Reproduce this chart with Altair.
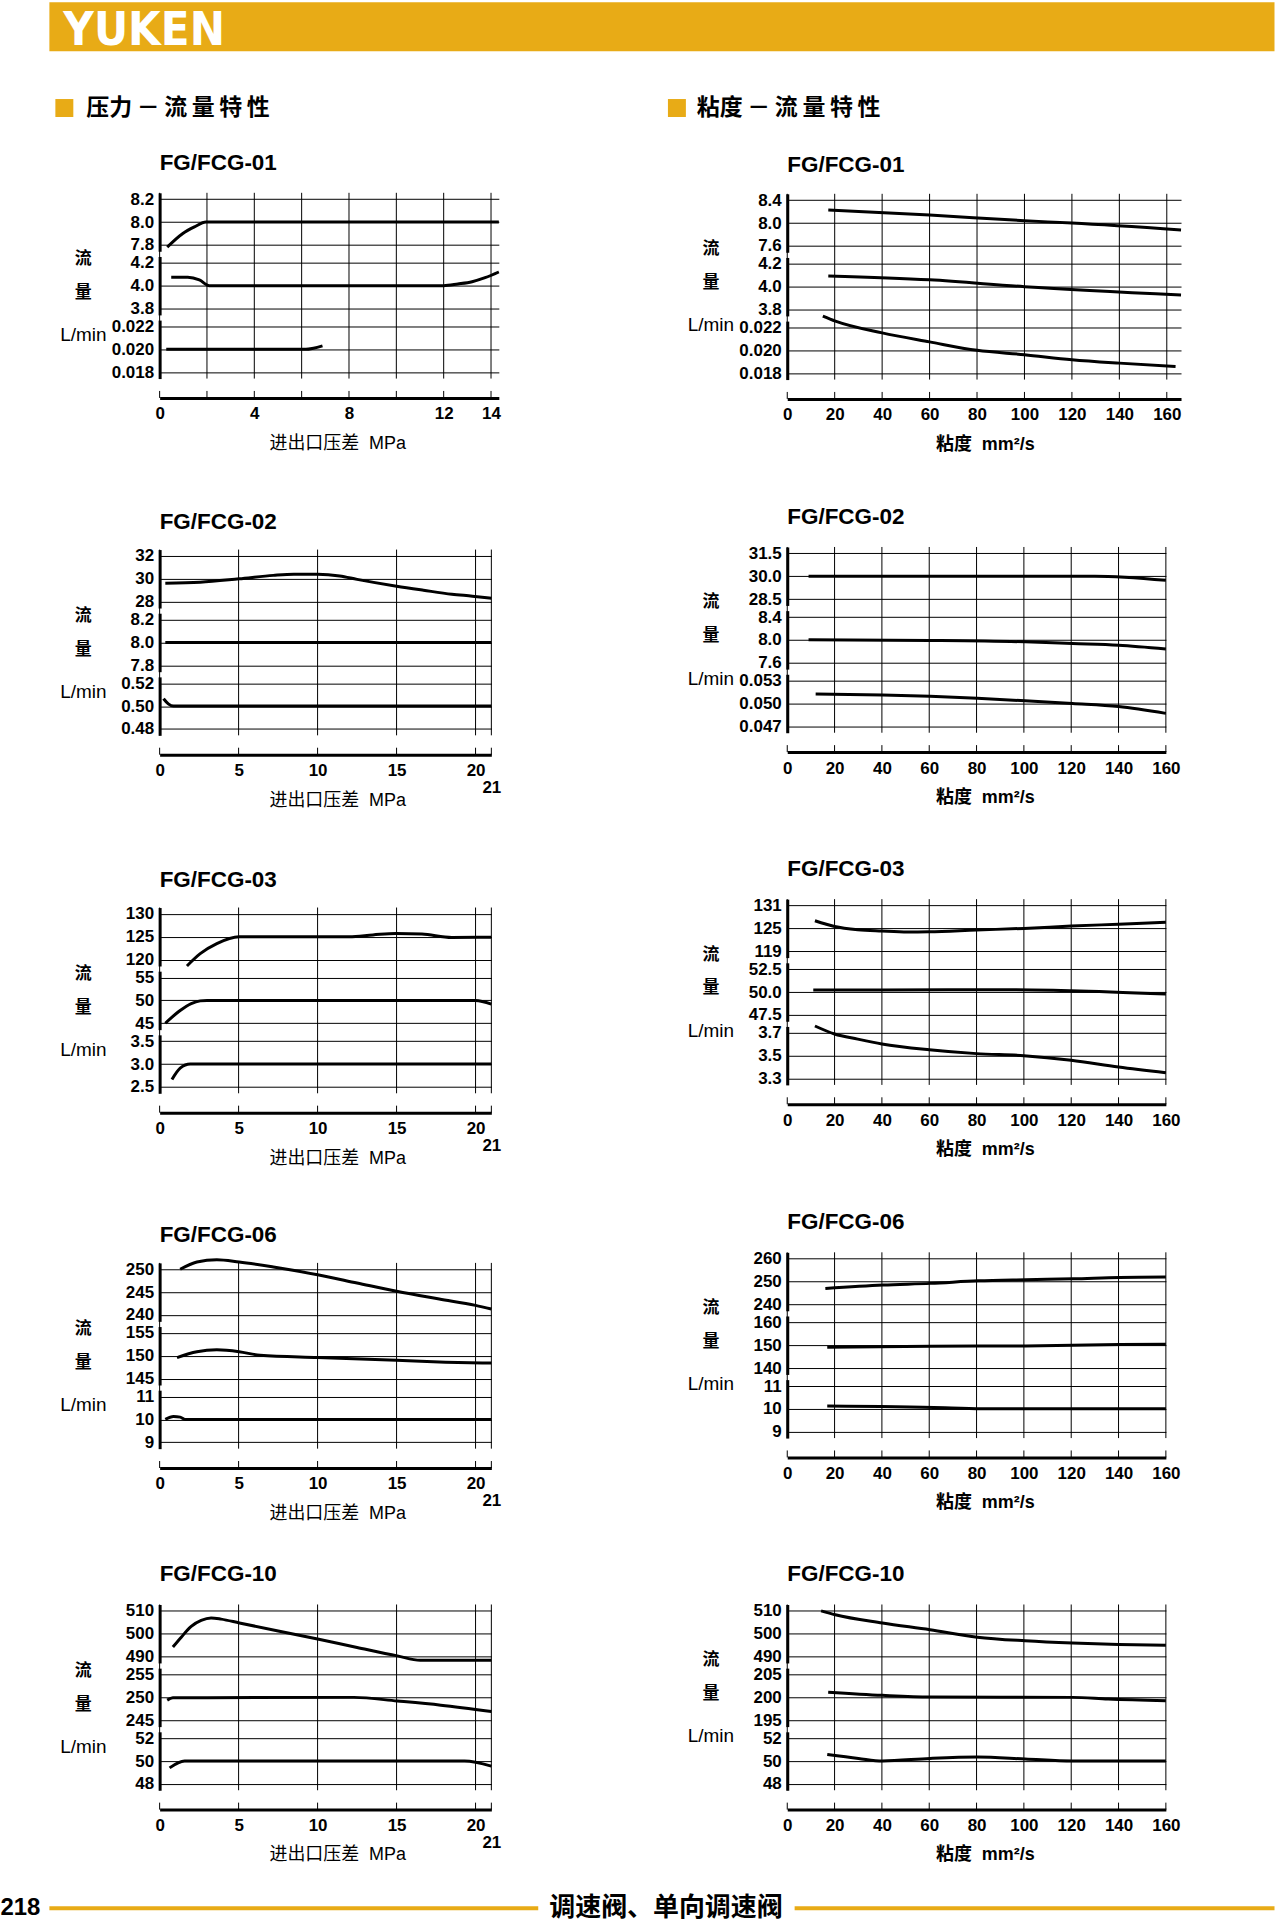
import altair as alt
import pandas as pd

# ----------------------------------------------------------------- data
# 压力-流量特性 (x: 进出口压差 MPa) — three flow bands per size
P01_TOP = [(0.32, 7.78), (0.98, 7.90), (1.47, 7.957), (1.96, 8.0), (14.33, 8.0)]
P01_MID = [(0.49, 4.074), (1.19, 4.074), (1.68, 4.05), (2.1, 4.0), (12.0, 4.0), (12.6, 4.015),
           (13.2, 4.035), (13.75, 4.07), (14.33, 4.12)]
P01_LOW = [(0.28, 0.0200), (6.18, 0.0200), (6.5, 0.0201), (6.88, 0.0203)]

P02_TOP = [(0.36, 29.62), (2.57, 29.7), (5.03, 30.0), (7.2, 30.3), (8.5, 30.4), (10.0, 30.4),
           (11.4, 30.25), (12.5, 29.95), (15.0, 29.35), (16.7, 29.0), (18.5, 28.65), (19.8, 28.48), (21.0, 28.3)]
P02_MID = [(0.36, 8.0), (21.0, 8.0)]
P02_LOW = [(0.25, 0.5065), (0.55, 0.502), (0.88, 0.500), (21.0, 0.500)]

P03_TOP = [(1.73, 118.6), (2.57, 121.3), (3.62, 123.5), (5.03, 125.0), (12.0, 125.0), (13.5, 125.4),
           (14.95, 125.74), (16.6, 125.6), (18.5, 124.85), (21.0, 124.9)]
P03_MID = [(0.36, 45.0), (1.3, 47.8), (2.0, 49.3), (2.57, 49.9), (3.0, 50.0), (20.0, 50.0), (21.0, 49.2)]
P03_LOW = [(0.78, 2.66), (1.3, 2.91), (1.94, 3.0), (21.0, 3.0)]

P06_TOP = [(1.3, 250.0), (2.36, 251.6), (3.62, 252.1), (5.03, 251.6), (7.2, 250.5), (10.0, 248.8),
           (12.5, 247.0), (15.0, 245.2), (17.7, 243.5), (20.0, 242.1), (21.0, 241.3)]
P06_MID = [(1.1, 149.6), (2.36, 150.9), (3.62, 151.3), (5.03, 150.9), (6.36, 150.1), (10.0, 149.6),
           (15.0, 149.0), (18.1, 148.6), (21.0, 148.4)]
P06_LOW = [(0.36, 10.0), (0.88, 10.13), (1.3, 10.1), (1.62, 10.0), (21.0, 10.0)]

P10_TOP = [(0.84, 494.2), (1.37, 498.5), (2.0, 503.2), (2.63, 505.8), (3.26, 506.9), (3.89, 506.4),
           (5.05, 504.7), (10.0, 497.7), (12.5, 494.0), (15.05, 490.3), (16.5, 488.4), (21.0, 488.4)]
P10_MID = [(0.48, 249.4), (0.84, 249.9), (12.3, 250.0), (15.05, 249.2), (17.8, 248.3), (21.0, 246.9)]
P10_LOW = [(0.63, 49.4), (1.58, 50.0), (19.3, 50.0), (21.0, 49.55)]

# 粘度-流量特性 (x: 粘度 mm²/s)
V01_TOP = [(17.3, 8.23), (60.0, 8.14), (100.0, 8.04), (120.0, 8.0), (166.0, 7.88)]
V01_MID = [(17.3, 4.094), (60.0, 4.06), (100.0, 4.0), (166.0, 3.927)]
V01_LOW = [(15.0, 0.0230), (20.3, 0.02256), (40.0, 0.02153), (60.0, 0.02074), (80.0, 0.0200),
           (100.0, 0.01962), (120.0, 0.01918), (140.0, 0.01888), (163.7, 0.01859)]

V02_TOP = [(9.0, 30.0), (130.0, 30.0), (160.0, 29.73)]
V02_MID = [(9.0, 8.0), (60.3, 7.99), (100.5, 7.965), (120.5, 7.935), (140.0, 7.905), (160.0, 7.84)]
V02_LOW = [(12.0, 0.05126), (40.2, 0.05113), (60.3, 0.05095), (80.3, 0.05068), (100.5, 0.05036),
           (120.5, 0.0500), (140.0, 0.0496), (160.0, 0.0487)]

V03_TOP = [(11.7, 127.0), (20.0, 125.5), (29.8, 124.65), (39.9, 124.3), (50.9, 124.04), (59.9, 124.1),
           (80.0, 124.57), (100.0, 125.0), (120.0, 125.6), (140.0, 126.1), (160.0, 126.6)]
V03_MID = [(11.0, 50.23), (40.0, 50.23), (96.0, 50.25), (120.0, 50.15), (160.0, 49.77)]
V03_LOW = [(11.7, 3.76), (20.0, 3.69), (29.8, 3.645), (40.0, 3.603), (60.0, 3.552), (80.0, 3.518),
           (100.0, 3.50), (120.0, 3.46), (140.0, 3.40), (160.0, 3.35)]

V06_TOP = [(16.1, 247.0), (40.5, 248.5), (60.6, 249.2), (80.6, 250.3), (100.8, 250.8), (120.8, 251.2),
           (140.4, 251.8), (160.0, 252.0)]
V06_MID = [(16.9, 149.1), (60.6, 149.56), (100.8, 149.7), (140.4, 150.3), (160.0, 150.4)]
V06_LOW = [(16.9, 10.12), (66.6, 10.05), (84.7, 10.0), (160.0, 10.0)]

V10_TOP = [(14.3, 510.0), (20.3, 508.3), (40.2, 504.7), (60.3, 501.75), (80.3, 498.5), (100.5, 496.9),
           (120.5, 495.9), (140.0, 495.3), (160.0, 495.0)]
V10_MID = [(17.3, 201.14), (40.2, 200.45), (60.3, 200.08), (120.5, 200.0), (135.6, 199.62), (160.0, 199.24)]
V10_LOW = [(16.9, 50.58), (30.1, 50.23), (40.2, 50.0), (60.3, 50.23), (80.3, 50.35), (100.5, 50.18),
           (120.5, 50.0), (160.0, 50.0)]

# y tick values (top, middle, bottom band) and label formats
P01_TICKS = [[7.8, 8.0, 8.2], [3.8, 4.0, 4.2], [0.018, 0.020, 0.022]]
P02_TICKS = [[28, 30, 32], [7.8, 8.0, 8.2], [0.48, 0.50, 0.52]]
P03_TICKS = [[120, 125, 130], [45, 50, 55], [2.5, 3.0, 3.5]]
P06_TICKS = [[240, 245, 250], [145, 150, 155], [9, 10, 11]]
P10_TICKS = [[490, 500, 510], [245, 250, 255], [48, 50, 52]]
V01_TICKS = [[7.6, 8.0, 8.4], [3.8, 4.0, 4.2], [0.018, 0.020, 0.022]]
V02_TICKS = [[28.5, 30.0, 31.5], [7.6, 8.0, 8.4], [0.047, 0.050, 0.053]]
V03_TICKS = [[119, 125, 131], [47.5, 50.0, 52.5], [3.3, 3.5, 3.7]]
V06_TICKS = [[240, 250, 260], [140, 150, 160], [9, 10, 11]]
V10_TICKS = [[490, 500, 510], [195, 200, 205], [48, 50, 52]]

P01_FMT = [".1f", ".1f", ".3f"]
P02_FMT = ["d", ".1f", ".2f"]
P03_FMT = ["d", "d", ".1f"]
P06_FMT = ["d", "d", "d"]
P10_FMT = ["d", "d", "d"]
V01_FMT = [".1f", ".1f", ".3f"]
V02_FMT = [".1f", ".1f", ".3f"]
V03_FMT = ["d", ".1f", ".1f"]
V06_FMT = ["d", "d", "d"]
V10_FMT = ["d", "d", "d"]

# x ticks / labels
P01_XGRID = [0, 2, 4, 6, 8, 10, 12, 14]
P01_XLABELS = [0, 4, 8, 12, 14]
P_XGRID = [0, 5, 10, 15, 20, 21]
P_XLABELS = [0, 5, 10, 15, 20, 21]
V_XGRID = [0, 20, 40, 60, 80, 100, 120, 140, 160]

TITLES = ["FG/FCG-01", "FG/FCG-02", "FG/FCG-03", "FG/FCG-06", "FG/FCG-10"]
BAND_NAMES = ["流", "量", "L/min"]
LEFT_HEAD = "压力\u2009－\u2009流\u2009量\u2009特\u2009性"
RIGHT_HEAD = "粘度\u2009－\u2009流\u2009量\u2009特\u2009性"
LEFT_XTITLE = "进出口压差\u00a0\u00a0MPa"
RIGHT_XTITLE = "粘度\u00a0\u00a0mm²/s"
PAGE_NO = "218"
FOOT_TEXT = "调速阀、单向调速阀"

# ----------------------------------------------------------------- style / layout
ORANGE = "#E8AB16"
FONT = "Liberation Sans"
CJK = "Noto Sans CJK SC"
MIX = "Liberation Sans, Noto Sans CJK SC"
BAND_H = 58.6
BAND_GAP = 5.2
PAD = 0.28
AX_OFF = 205.6
TICK_LEN = 7
PAGE_W = 1277
PAGE_H = 1920
X0_LEFT = 159.5
X0_RIGHT = 788.6
T_LEFT = [190.9, 547.9, 905.3, 1260.9, 1601.9]
T_RIGHT = [191.9, 545.3, 896.9, 1250.3, 1601.9]
LEFT_YLAB = [66, 100, 142]
RIGHT_YLAB = [55, 89, 131.5]
TITLE_OFFSET = -1.9

dummy = pd.DataFrame({"v": [0]})


def panel(title, series, ticks, fmts, xmax, width, xgrid, xlabels, extra, xtitle, title_x,
          xtitle_bold, ylab, slack):
    height = slack + AX_OFF
    bands_h = 3 * BAND_H + 2 * BAND_GAP
    lab = "[" + ",".join(str(v) for v in xlabels) + "]"
    if extra is None:
        expr = f"indexof({lab}, datum.value) >= 0 ? datum.label : ''"
    else:
        expr = (f"datum.value == {extra} ? ['', datum.label] : "
                f"(indexof({lab}, datum.value) >= 0 ? datum.label : '')")
    xaxis = alt.Axis(values=xgrid, grid=False, domain=True, domainColor="black", domainWidth=3,
                     ticks=False, tickSize=0,
                     labelExpr=expr, labelFont=FONT, labelFontSize=17, labelFontWeight="bold",
                     labelColor="black", labelPadding=8, labelFlush=False, labelOverlap=False,
                     labelLineHeight=17, title=xtitle, titleX=title_x, titleY=45.5,
                     titleAlign="center", titleBaseline="middle", titleFont=MIX, titleFontSize=18,
                     titleFontWeight="bold" if xtitle_bold else "normal", titleColor="black")
    xscale = alt.Scale(domain=[0, xmax], nice=False, zero=False)
    gdf = pd.DataFrame({"x": xgrid, "lo": [0] * len(xgrid), "hi": [1] * len(xgrid)})
    layers = [
        # vertical grid through the three bands
        alt.Chart(gdf).mark_rule(color="black", strokeWidth=1).encode(
            x=alt.X("x:Q", scale=xscale, axis=xaxis),
            y=alt.Y("lo:Q", scale=alt.Scale(domain=[0, 1], range=[slack + bands_h, slack]), axis=None),
            y2="hi:Q"),
        # short upward ticks on the x axis line
        alt.Chart(gdf).mark_rule(color="black", strokeWidth=1).encode(
            x=alt.X("x:Q", scale=xscale, axis=xaxis),
            y=alt.Y("lo:Q", scale=alt.Scale(domain=[0, 1], range=[height, height - TICK_LEN]), axis=None),
            y2="hi:Q"),
    ]
    for j in range(3):
        df = pd.DataFrame(series[j], columns=["x", "y"])
        lo, mid, hi = ticks[j]
        s = (hi - lo) / 2.0
        top = slack + j * (BAND_H + BAND_GAP)
        bot = top + BAND_H
        ydom = [round(lo - PAD * s, 8), round(hi + PAD * s, 8)]
        yaxis = alt.Axis(orient="left", values=ticks[j], format=fmts[j], grid=True, gridColor="black",
                         gridWidth=1, domain=True, domainColor="black", domainWidth=3, ticks=False,
                         tickSize=0, labelFont=FONT, labelFontSize=17, labelFontWeight="bold",
                         labelColor="black", labelPadding=6, labelOverlap=False,
                         title=BAND_NAMES[j], titleAngle=0, titleX=-77, titleY=slack + ylab[j],
                         titleAlign="center", titleBaseline="middle",
                         titleFont=CJK if j < 2 else FONT, titleFontSize=17 if j < 2 else 19,
                         titleFontWeight="bold" if j < 2 else "normal", titleColor="black")
        layers.append(
            alt.Chart(df).mark_line(color="black", strokeWidth=3, interpolate="monotone",
                                    strokeCap="butt").encode(
                x=alt.X("x:Q", scale=xscale, axis=xaxis),
                y=alt.Y("y:Q", scale=alt.Scale(domain=ydom, range=[bot, top], nice=False, zero=False),
                        axis=yaxis),
            )
        )
    return (alt.layer(*layers)
            .resolve_scale(y="independent")
            .resolve_axis(y="independent")
            .properties(width=width, height=height,
                        title=alt.TitleParams(title, anchor="start", frame="group",
                                              offset=TITLE_OFFSET - slack,
                                              baseline="alphabetic", font=FONT, fontSize=22.5,
                                              fontWeight="bold", color="black")))


def spacer(h):
    return alt.Chart(dummy).mark_point(opacity=0).properties(width=1, height=h)


R = [min(a, b) for a, b in zip(T_LEFT, T_RIGHT)]


def head_cell(label, x0, width, with_bar):
    layers = []
    if with_bar:
        layers.append(alt.Chart(dummy).mark_rect(color=ORANGE).encode(
            x=alt.value(49 - x0), x2=alt.value(PAGE_W - x0), y=alt.value(0), y2=alt.value(49)))
        layers.append(alt.Chart(dummy).mark_text(
            text="YUKEN", align="left", baseline="alphabetic", color="white",
            font="DejaVu Sans Condensed, DejaVu Sans", fontSize=47, fontWeight="bold").encode(
            x=alt.value(63 - x0), y=alt.value(43)))
    sq_x = 64 if x0 == X0_LEFT else 678
    tx_x = 86 if x0 == X0_LEFT else 698
    layers.append(alt.Chart(dummy).mark_square(size=324, color=ORANGE, filled=True, opacity=1).encode(
        x=alt.value(sq_x - x0), y=alt.value(106)))
    layers.append(alt.Chart(dummy).mark_text(
        text=label, align="left", baseline="middle", color="black", font=CJK, fontSize=23,
        fontWeight="bold").encode(x=alt.value(tx_x - x0), y=alt.value(106)))
    return alt.layer(*layers).properties(width=width, height=R[0])


left_series = [(P01_TOP, P01_MID, P01_LOW), (P02_TOP, P02_MID, P02_LOW), (P03_TOP, P03_MID, P03_LOW),
               (P06_TOP, P06_MID, P06_LOW), (P10_TOP, P10_MID, P10_LOW)]
left_ticks = [P01_TICKS, P02_TICKS, P03_TICKS, P06_TICKS, P10_TICKS]
left_fmts = [P01_FMT, P02_FMT, P03_FMT, P06_FMT, P10_FMT]
right_series = [(V01_TOP, V01_MID, V01_LOW), (V02_TOP, V02_MID, V02_LOW), (V03_TOP, V03_MID, V03_LOW),
                (V06_TOP, V06_MID, V06_LOW), (V10_TOP, V10_MID, V10_LOW)]
right_ticks = [V01_TICKS, V02_TICKS, V03_TICKS, V06_TICKS, V10_TICKS]
right_fmts = [V01_FMT, V02_FMT, V03_FMT, V06_FMT, V10_FMT]

cells = [head_cell(LEFT_HEAD, X0_LEFT, 340, True), head_cell(RIGHT_HEAD, X0_RIGHT, 1, False)]
for k in range(5):
    sl = T_LEFT[k] - R[k]
    sr = T_RIGHT[k] - R[k]
    if k == 0:
        lp = panel(TITLES[k], left_series[k], left_ticks[k], left_fmts[k], 14.33, 340, P01_XGRID,
                   P01_XLABELS, None, LEFT_XTITLE, 178, False, LEFT_YLAB, sl)
        rp = panel(TITLES[k], right_series[k], right_ticks[k], right_fmts[k], 166, 394.7, V_XGRID,
                   V_XGRID, None, RIGHT_XTITLE, 198, True, RIGHT_YLAB, sr)
    else:
        lp = panel(TITLES[k], left_series[k], left_ticks[k], left_fmts[k], 21, 332.5, P_XGRID,
                   P_XLABELS, 21, LEFT_XTITLE, 178, False, LEFT_YLAB, sl)
        rp = panel(TITLES[k], right_series[k], right_ticks[k], right_fmts[k], 160, 379.5, V_XGRID,
                   V_XGRID, None, RIGHT_XTITLE, 198, True, RIGHT_YLAB, sr)
    cells += [lp, rp]
    row_bottom = max(T_LEFT[k], T_RIGHT[k]) + AX_OFF
    if k < 4:
        gap = R[k + 1] - row_bottom
        cells += [spacer(gap), spacer(gap)]
    else:
        foot_top = row_bottom

fy = 1906 - foot_top
footer = alt.layer(
    alt.Chart(dummy).mark_text(text=PAGE_NO, align="left", baseline="middle", color="black",
                               font="Liberation Sans Narrow, Liberation Sans", fontSize=24,
                               fontWeight="bold").encode(x=alt.value(0 - X0_LEFT), y=alt.value(fy)),
    alt.Chart(dummy).mark_rule(color=ORANGE, strokeWidth=4).encode(
        x=alt.value(49 - X0_LEFT), x2=alt.value(539 - X0_LEFT), y=alt.value(fy)),
    alt.Chart(dummy).mark_text(text=FOOT_TEXT, align="center", baseline="middle", color="black",
                               font=CJK, fontSize=26, fontWeight="bold").encode(
        x=alt.value(667 - X0_LEFT), y=alt.value(fy)),
    alt.Chart(dummy).mark_rule(color=ORANGE, strokeWidth=4).encode(
        x=alt.value(796 - X0_LEFT), x2=alt.value(PAGE_W - X0_LEFT), y=alt.value(fy)),
).properties(width=340, height=PAGE_H - foot_top)
cells.append(footer)

chart = (alt.concat(*cells, columns=2, spacing={"row": 0, "column": X0_RIGHT - X0_LEFT - 340},
                    bounds="flush", align="each")
         .properties(padding=0, background="white")
         .configure_view(strokeWidth=0))

chart.save("out.html", embed_options={"renderer": "svg", "actions": False})
